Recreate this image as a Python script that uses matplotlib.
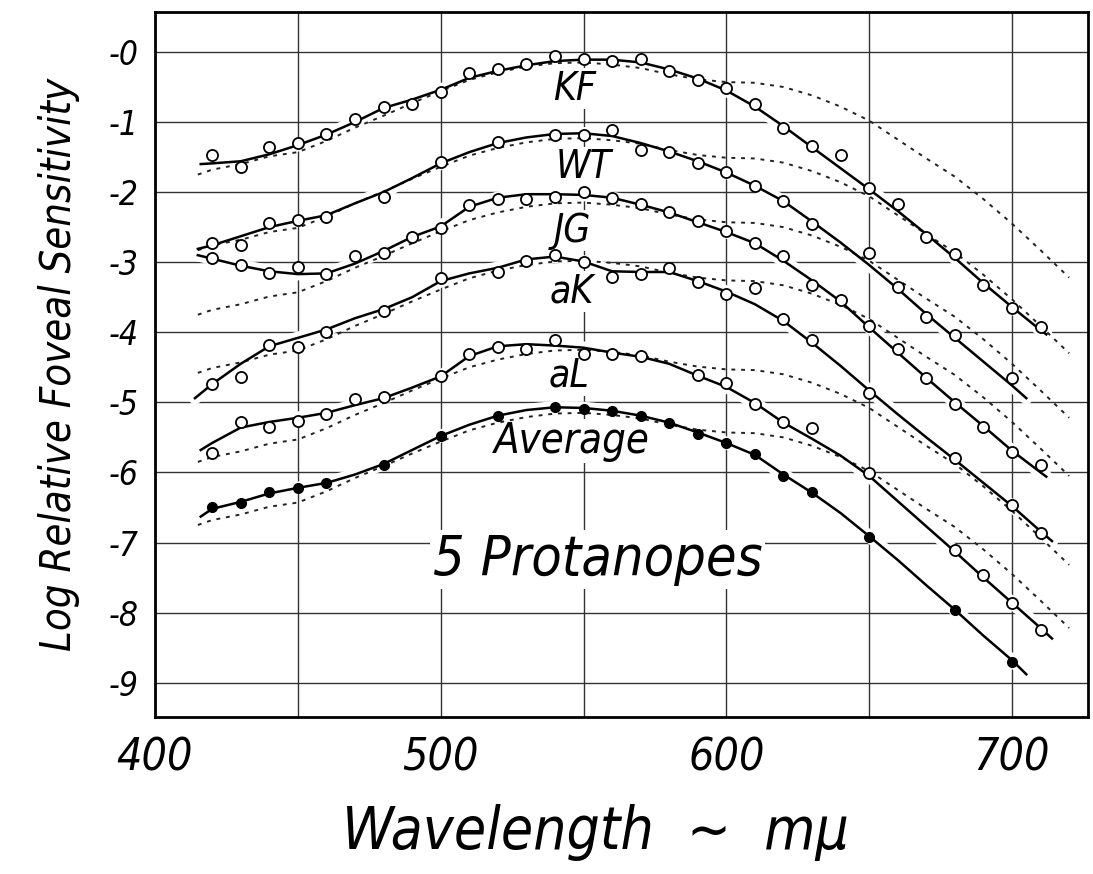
import numpy as np
import matplotlib
matplotlib.use("Agg")
import matplotlib.pyplot as plt

plt.rcParams['font.family'] = ['DejaVu Sans']
plt.rcParams['font.style'] = 'italic'
plt.rcParams['font.stretch'] = 'condensed'

# measured points (log relative sensitivity) per subject
kf_wl = list(range(420, 711, 10))
kf_pts = [-1.47, -1.64, -1.36, -1.30, -1.17, -0.96, -0.79, -0.74, -0.57, -0.30,
          -0.24, -0.17, -0.06, -0.10, -0.13, -0.10, -0.27, -0.40, -0.51, -0.74,
          -1.08, -1.34, -1.47, -1.94, -2.17, -2.64, -2.88, -3.32, -3.65, -3.92]

wt_wl = [420, 430, 440, 450, 460, 480, 500, 520, 540, 550, 560, 570, 580, 590,
         600, 610, 620, 630, 650, 660, 670, 680, 700]
wt_pts = [-2.72, -2.75, -2.44, -2.40, -2.36, -2.07, -1.57, -1.28, -1.18, -1.18,
          -1.11, -1.40, -1.43, -1.58, -1.71, -1.91, -2.13, -2.45, -2.87, -3.35,
          -3.78, -4.04, -4.65]

jg_wl = list(range(420, 711, 10))
jg_pts = [-2.94, -3.04, -3.15, -3.07, -3.17, -2.91, -2.87, -2.64, -2.51, -2.18,
          -2.10, -2.10, -2.07, -2.00, -2.08, -2.17, -2.28, -2.41, -2.55, -2.72,
          -2.91, -3.32, -3.54, -3.91, -4.24, -4.65, -5.02, -5.35, -5.71, -5.89]

ak_wl = [420, 430, 440, 450, 460, 480, 500, 520, 530, 540, 550, 560, 570, 580,
         590, 600, 610, 620, 630, 650, 680, 700, 710]
ak_pts = [-4.74, -4.64, -4.18, -4.21, -3.99, -3.69, -3.22, -3.14, -2.99, -2.90,
          -3.00, -3.21, -3.17, -3.08, -3.28, -3.45, -3.37, -3.81, -4.11, -4.86,
          -5.79, -6.46, -6.86]

al_wl = [420, 430, 440, 450, 460, 470, 480, 500, 510, 520, 530, 540, 550, 560,
         570, 590, 600, 610, 620, 630, 650, 680, 690, 700, 710]
al_pts = [-5.72, -5.28, -5.35, -5.26, -5.16, -4.95, -4.92, -4.62, -4.31, -4.21,
          -4.24, -4.11, -4.31, -4.31, -4.34, -4.61, -4.72, -5.02, -5.28, -5.36,
          -6.01, -7.10, -7.47, -7.86, -8.25]

avg_wl = [420, 430, 440, 450, 460, 480, 500, 520, 540, 550, 560, 570, 580, 590,
          600, 610, 620, 630, 650, 680, 700]
avg_pts = [-6.50, -6.43, -6.28, -6.22, -6.15, -5.89, -5.48, -5.19, -5.06, -5.09,
           -5.12, -5.19, -5.29, -5.45, -5.58, -5.73, -6.05, -6.28, -6.92, -7.97,
           -8.70]

# hand-drawn smooth curves through the points
kf_fit_wl = [416] + list(range(420, 711, 10)) + [712]
kf_fit = [-1.60, -1.59, -1.56, -1.46, -1.33, -1.18, -1.00, -0.80, -0.68, -0.54,
          -0.37, -0.27, -0.19, -0.13, -0.11, -0.11, -0.15, -0.25, -0.38, -0.55,
          -0.78, -1.06, -1.36, -1.66, -1.96, -2.27, -2.60, -2.94, -3.30, -3.64,
          -3.97, -4.03]

wt_fit_wl = [415] + list(range(420, 701, 10)) + [705]
wt_fit = [-2.81, -2.76, -2.63, -2.50, -2.41, -2.33, -2.16, -2.00, -1.80, -1.59,
          -1.43, -1.30, -1.22, -1.17, -1.16, -1.20, -1.30, -1.42, -1.56, -1.72,
          -1.91, -2.13, -2.42, -2.72, -3.04, -3.38, -3.74, -4.08, -4.42, -4.76,
          -4.94]

jg_fit_wl = [415] + list(range(420, 711, 10)) + [712]
jg_fit = [-2.90, -2.95, -3.05, -3.13, -3.17, -3.16, -3.02, -2.84, -2.64, -2.49,
          -2.21, -2.08, -2.03, -2.03, -2.04, -2.08, -2.18, -2.29, -2.43, -2.57,
          -2.73, -2.98, -3.26, -3.56, -3.93, -4.29, -4.65, -5.00, -5.34, -5.69,
          -6.00, -6.06]

ak_fit_wl = [414] + list(range(420, 711, 10)) + [714]
ak_fit = [-4.94, -4.74, -4.45, -4.20, -4.08, -3.96, -3.80, -3.67, -3.50, -3.27,
          -3.16, -3.08, -2.96, -2.92, -2.99, -3.13, -3.14, -3.14, -3.27, -3.42,
          -3.60, -3.84, -4.15, -4.48, -4.83, -5.17, -5.50, -5.82, -6.15, -6.48,
          -6.84, -6.98]

al_fit_wl = [416] + list(range(420, 711, 10)) + [714]
al_fit = [-5.68, -5.58, -5.36, -5.28, -5.22, -5.15, -5.04, -4.94, -4.79, -4.63,
          -4.34, -4.20, -4.17, -4.19, -4.22, -4.29, -4.35, -4.45, -4.62, -4.78,
          -5.01, -5.29, -5.52, -5.76, -6.05, -6.41, -6.77, -7.13, -7.50, -7.86,
          -8.22, -8.37]

avg_fit_wl = [416] + list(range(420, 701, 10)) + [705]
avg_fit = [-6.63, -6.52, -6.42, -6.30, -6.22, -6.15, -6.03, -5.88, -5.68, -5.48,
           -5.32, -5.19, -5.11, -5.07, -5.08, -5.12, -5.19, -5.29, -5.43, -5.58,
           -5.75, -6.03, -6.29, -6.58, -6.91, -7.25, -7.61, -7.96, -8.33, -8.68,
           -8.88]

# normal (trichromat) curve, drawn dotted behind each subject
normal_wl = [415] + list(range(420, 721, 10))
normal = [-1.75, -1.68, -1.60, -1.49, -1.43, -1.27, -1.08, -0.91, -0.73, -0.56,
          -0.40, -0.29, -0.21, -0.16, -0.15, -0.18, -0.23, -0.32, -0.39, -0.43,
          -0.44, -0.50, -0.62, -0.78, -0.98, -1.25, -1.52, -1.78, -2.10, -2.45,
          -2.83, -3.22]
normal_shift = [0.0, -1.08, -2.0, -2.83, -4.1, -5.0]

names = ["KF", "WT", "JG", "aK", "aL", "Average"]
name_pos = [(547, -0.68), (550, -1.80), (546, -2.71), (546, -3.58), (545, -4.78), (546, -5.72)]

pts_wl = [kf_wl, wt_wl, jg_wl, ak_wl, al_wl, avg_wl]
pts = [kf_pts, wt_pts, jg_pts, ak_pts, al_pts, avg_pts]
fit_wl = [kf_fit_wl, wt_fit_wl, jg_fit_wl, ak_fit_wl, al_fit_wl, avg_fit_wl]
fits = [kf_fit, wt_fit, jg_fit, ak_fit, al_fit, avg_fit]

fig = plt.figure(figsize=(10.93, 8.74), dpi=100)
ax = fig.add_axes([155 / 1093, 1 - 717 / 874, 933 / 1093, 705 / 874])
ax.set_xlim(400, 726.6)
ax.set_ylim(-9.49, 0.57)

ax.set_xticks([400, 500, 600, 700])
ax.set_xticks([450, 550, 650], minor=True)
ax.set_yticks(list(range(0, -10, -1)))
ax.set_yticklabels(["-%d" % abs(v) for v in range(0, -10, -1)])
ax.set_axisbelow(True)
ax.grid(which='both', color='#333333', lw=1.0)
ax.tick_params(which='both', length=0)
ax.tick_params(axis='x', pad=14, labelsize=32)
ax.tick_params(axis='y', pad=12, labelsize=24)
for s in ax.spines.values():
    s.set_linewidth(2)

for i in range(len(names)):
    # white band so the grid breaks around each curve, like the drafting
    ax.plot(fit_wl[i], fits[i], color='white', lw=9, solid_capstyle='round', zorder=1)
for i in range(len(names)):
    ax.plot(normal_wl, np.array(normal) + normal_shift[i], color='#222222', lw=1.4,
            ls=(0, (2.0, 3.0)), zorder=2)
    ax.plot(fit_wl[i], fits[i], color='black', lw=1.8, zorder=3)
    if names[i] == "Average":
        ax.plot(pts_wl[i], pts[i], 'o', ms=7, mfc='black', mec='black', zorder=4)
    else:
        ax.plot(pts_wl[i], pts[i], 'o', ms=8, mfc='white', mec='black', mew=1.3, zorder=4)
    ax.text(name_pos[i][0], name_pos[i][1], names[i], ha='center', va='baseline',
            fontsize=30 if names[i] == "Average" else 28, zorder=1.5,
            bbox=dict(facecolor='white', edgecolor='none', pad=1))

ax.text(555, -7.46, "5 Protanopes", ha='center', va='baseline', fontsize=40, zorder=1.5,
        bbox=dict(facecolor='white', edgecolor='none', pad=2))

ax.set_ylabel("Log Relative Foveal Sensitivity", fontsize=30)
ax.yaxis.set_label_coords(-0.08, 0.5)
ax.set_xlabel("Wavelength  \u223c  m\u03bc", fontsize=42)
ax.xaxis.set_label_coords(0.472, -0.124)

fig.savefig("out.png", dpi=100)
